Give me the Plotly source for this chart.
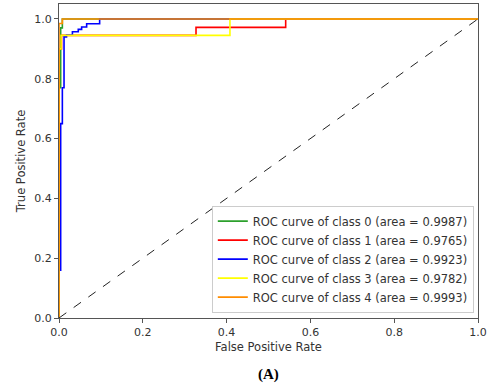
import plotly.graph_objects as go

# ROC curve points (fpr, tpr)
class_names = ["ROC curve of class 0", "ROC curve of class 1", "ROC curve of class 2",
               "ROC curve of class 3", "ROC curve of class 4"]
areas = [0.9987, 0.9765, 0.9923, 0.9782, 0.9993]
colors = ["#2ca02c", "red", "blue", "yellow", "darkorange"]

fpr0 = [0.0, 0.0, 0.004, 0.004, 0.008, 0.008, 1.0]
tpr0 = [0.0, 0.77, 0.77, 0.97, 0.97, 1.0, 1.0]

fpr1 = [0.0, 0.0, 0.006, 0.006, 0.327, 0.327, 0.541, 0.541, 1.0]
tpr1 = [0.0, 0.90, 0.90, 0.945, 0.945, 0.972, 0.972, 1.0, 1.0]

fpr2 = [0.0, 0.0, 0.004, 0.004, 0.008, 0.008, 0.012, 0.012, 0.018, 0.018, 0.032, 0.032,
        0.046, 0.046, 0.054, 0.054, 0.066, 0.066, 0.097, 0.097, 1.0]
tpr2 = [0.0, 0.16, 0.16, 0.65, 0.65, 0.77, 0.77, 0.94, 0.94, 0.946, 0.946, 0.957,
        0.957, 0.965, 0.965, 0.973, 0.973, 0.984, 0.984, 1.0, 1.0]

fpr3 = [0.0, 0.0, 0.005, 0.005, 0.408, 0.408, 1.0]
tpr3 = [0.0, 0.90, 0.90, 0.945, 0.945, 1.0, 1.0]

fpr4 = [0.0, 0.0, 0.008, 0.008, 1.0]
tpr4 = [0.0, 0.985, 0.985, 1.0, 1.0]

diag = [0.0, 1.0]
tick_vals = [0.0, 0.2, 0.4, 0.6, 0.8, 1.0]
tick_text = ["0.0", "0.2", "0.4", "0.6", "0.8", "1.0"]

fprs = [fpr0, fpr1, fpr2, fpr3, fpr4]
tprs = [tpr0, tpr1, tpr2, tpr3, tpr4]

fig = go.Figure()
for name, a, c, fx, ty in zip(class_names, areas, colors, fprs, tprs):
    fig.add_trace(go.Scatter(x=fx, y=ty, mode="lines", line=dict(color=c, width=1.6),
                             name=f"{name} (area = {a:.4f})"))
fig.add_trace(go.Scatter(x=diag, y=diag, mode="lines", showlegend=False,
                         line=dict(color="#222", width=1, dash="dash")))

axis_common = dict(showgrid=False, zeroline=False, showline=True, mirror=True,
                   linecolor="#555", linewidth=1, ticks="outside", ticklen=4,
                   tickcolor="#555", tickvals=tick_vals, ticktext=tick_text,
                   tickfont=dict(family="DejaVu Sans", size=11, color="#333"))

fig.update_layout(
    width=490, height=385,
    margin=dict(l=59, r=9, t=3, b=67),
    plot_bgcolor="white", paper_bgcolor="white",
    xaxis=dict(range=[0, 1], title=dict(text="False Positive Rate", standoff=4,
               font=dict(family="DejaVu Sans", size=11.5, color="#333")), **axis_common),
    yaxis=dict(range=[0, 1.05], title=dict(text="True Positive Rate", standoff=6,
               font=dict(family="DejaVu Sans", size=11.5, color="#333")), **axis_common),
    legend=dict(x=0.99, xanchor="right", y=0.017, yanchor="bottom",
                bgcolor="white", bordercolor="#ccc", borderwidth=1,
                font=dict(family="DejaVu Sans", size=11.5, color="#333"),
                tracegroupgap=0, itemwidth=30),
    showlegend=True,
    annotations=[dict(text="<b>(A)</b>", xref="paper", yref="paper", x=0.5, y=-0.181,
                      xanchor="center", yanchor="middle", showarrow=False,
                      font=dict(family="Liberation Serif", size=15, color="black"))],
)

fig.write_html("out.html")
